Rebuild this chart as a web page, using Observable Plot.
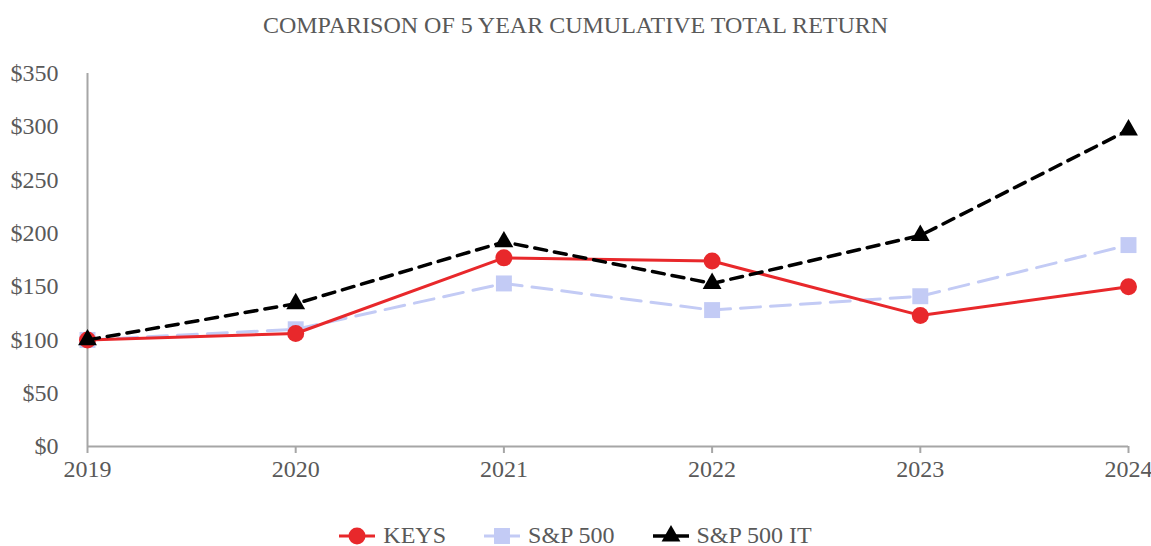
<!DOCTYPE html>
<html>
<head>
<meta charset="utf-8">
<script src="https://cdn.jsdelivr.net/npm/d3@7"></script>
<script src="https://cdn.jsdelivr.net/npm/@observablehq/plot@0.6"></script>
<style>
  html, body { margin: 0; padding: 0; background: #fff; }
  body { width: 1151px; height: 546px; overflow: hidden; font-family: "Liberation Serif", "DejaVu Serif", serif; color: #595959; }
  #title { height: 50px; line-height: 50px; text-align: center; font-size: 24px; }
  #legend { position: absolute; top: 522px; left: 0; width: 1151px; display: flex; justify-content: center; align-items: center; font-size: 24px; }
  .item { display: flex; align-items: center; margin: 0 19px; }
  .item svg { margin-right: 8px; }
</style>
</head>
<body>
<div id="title">COMPARISON OF 5 YEAR CUMULATIVE TOTAL RETURN</div>
<div id="chart"></div>
<div id="legend"></div>
<script>
const years = [2019, 2020, 2021, 2022, 2023, 2024];
const seriesNames = ["KEYS", "S&P 500", "S&P 500 IT"];
const keys = [100, 106, 177, 174, 123, 150];
const sp500 = [100, 110, 153, 128, 141, 189];
const sp500it = [100, 134, 192, 153, 198, 297];
const yTicks = [0, 50, 100, 150, 200, 250, 300, 350];

const styles = {
  "KEYS": {color: "#E8282B", dash: null, symbol: "circle", r: 8.5, width: 3},
  "S&P 500": {color: "#C3CBF5", dash: "20,10", symbol: "square", r: 9, width: 3},
  "S&P 500 IT": {color: "#000000", dash: "12,8", symbol: "triangle", r: 7, width: 3.5}
};
const values = {"KEYS": keys, "S&P 500": sp500, "S&P 500 IT": sp500it};
const data = seriesNames.flatMap(s => years.map((y, i) => ({series: s, year: y, value: values[s][i]})));

const marks = [
  Plot.ruleX([2019], {y1: 0, y2: 350, stroke: "#A6A6A6", strokeWidth: 2}),
  Plot.ruleY([0], {stroke: "#A6A6A6", strokeWidth: 2}),
  Plot.axisY({ticks: yTicks, tickFormat: d => "$" + d, tickSize: 0, tickPadding: 29, label: null, fontSize: 24, fill: "#595959"}),
  Plot.axisX({ticks: years, tickFormat: d => String(d), tickSize: 7, tickPadding: 6, label: null, fontSize: 24, fill: "#595959", stroke: "#A6A6A6", strokeWidth: 2})
];
for (const s of ["S&P 500", "KEYS", "S&P 500 IT"]) {
  const st = styles[s];
  const d = data.filter(x => x.series === s);
  marks.push(Plot.line(d, {x: "year", y: "value", stroke: st.color, strokeWidth: st.width, strokeDasharray: st.dash}));
  marks.push(Plot.dot(d, {x: "year", y: "value", fill: st.color, stroke: "none", symbol: st.symbol, r: st.r}));
}

const plot = Plot.plot({
  width: 1151,
  height: 450,
  marginTop: 23,
  marginBottom: 54,
  marginLeft: 87,
  marginRight: 23,
  x: {domain: [2019, 2024]},
  y: {domain: [0, 350]},
  style: {fontFamily: "'Liberation Serif', serif", fontSize: "24px", color: "#595959", background: "#fff"},
  marks
});
document.getElementById("chart").appendChild(plot);

const legend = document.getElementById("legend");
for (const s of seriesNames) {
  const st = styles[s];
  const item = document.createElement("div");
  item.className = "item";
  const svg = d3.create("svg").attr("width", 36).attr("height", 26);
  svg.append("line").attr("x1", 0).attr("x2", 36).attr("y1", 13).attr("y2", 13)
    .attr("stroke", st.color).attr("stroke-width", st.width);
  svg.append("path").attr("transform", "translate(18,13)")
    .attr("d", d3.symbol(st.symbol === "circle" ? d3.symbolCircle : st.symbol === "square" ? d3.symbolSquare : d3.symbolTriangle, Math.PI * st.r * st.r)())
    .attr("fill", st.color);
  item.appendChild(svg.node());
  const t = document.createElement("span");
  t.textContent = s;
  item.appendChild(t);
  legend.appendChild(item);
}
</script>
</body>
</html>
